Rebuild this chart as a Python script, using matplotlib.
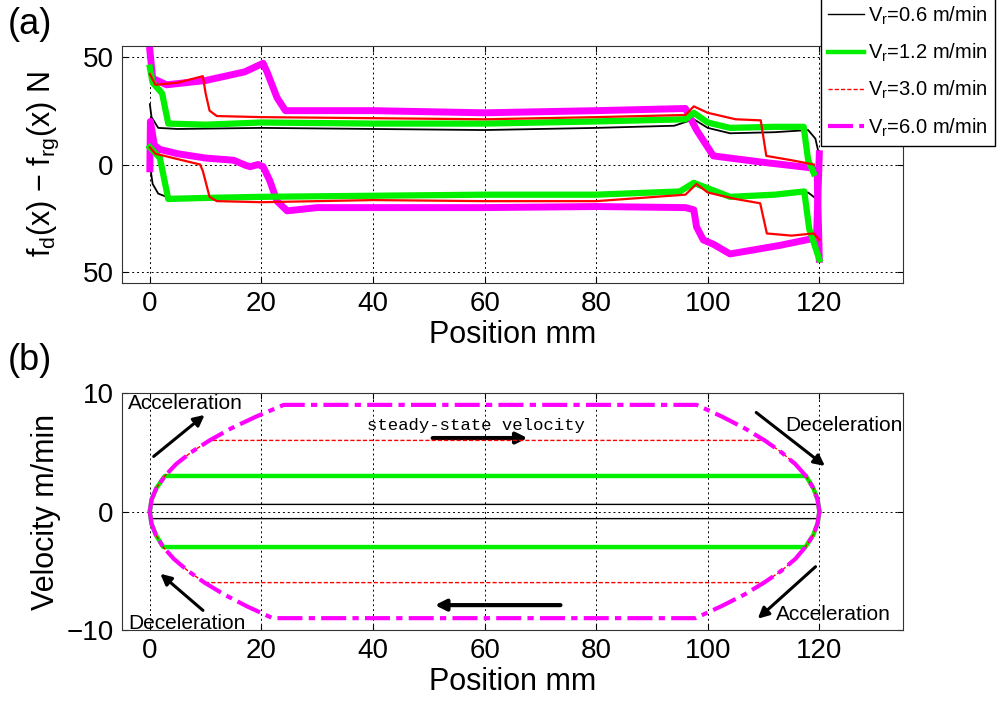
import numpy as np
import matplotlib.pyplot as plt

plt.rcParams['font.family'] = ['Liberation Sans', 'DejaVu Sans']
plt.rcParams['mathtext.fontset'] = 'custom'
plt.rcParams['mathtext.rm'] = 'Liberation Sans'
plt.rcParams['mathtext.it'] = 'Liberation Sans:italic'

speeds = [0.6, 1.2, 3.0, 6.0]
labels = ['V$_{\\mathrm{r}}$=%.1f m/min' % s for s in speeds]
colors = ['black', '#00f000', '#ff0000', '#ff00ff']

# (a) force difference, upper branch / lower branch of each run
blk_up_x = [0, 0.3, 1.5, 5, 20, 40, 60, 80, 94, 97.5, 100, 104, 112, 118, 119.3, 120]
blk_up_y = [28, 22, 17, 16.5, 17, 16.5, 16, 17, 18, 21, 17, 14.5, 15, 16, 12, 4]
blk_dn_x = [0, 0.5, 1.5, 3, 20, 40, 60, 80, 95, 97.5, 100, 104, 112, 118, 119.5, 120]
blk_dn_y = [0, -9, -13.5, -15, -15, -14.5, -14, -14, -13, -9.5, -12, -15, -14, -13, -16, -20]

grn_up_x = [0, 0.5, 2.2, 3.3, 10, 20, 40, 60, 80, 96, 97.5, 100, 104, 112, 117.2, 118, 119]
grn_up_y = [45, 38, 33, 19, 18.5, 19.5, 19, 19, 20, 21, 24, 19.5, 17, 17.5, 17.5, 2, -4]
grn_dn_x = [0, 1.8, 3.3, 10, 20, 40, 60, 80, 95, 97.5, 100, 104, 112, 117.3, 118.2, 120]
grn_dn_y = [8, 3, -16, -15.5, -15, -14.5, -14, -14, -12.5, -8.5, -11, -15, -14, -12.5, -30, -44]

red_up_x = [0, 1, 5, 9.5, 10, 10.7, 12, 20, 40, 60, 80, 96, 97.5, 100, 105, 109.5, 110.5, 115, 119]
red_up_y = [42, 37, 38, 41, 33, 25, 22.5, 22, 21.5, 21, 22, 23, 27, 24, 21, 20.5, 4, 2, 0]
red_dn_x = [0, 1, 9, 9.5, 10.7, 12, 20, 40, 60, 80, 96, 98, 100, 105, 109.4, 110.6, 115, 119, 120]
red_dn_y = [8, 5, 0, -3, -15, -17, -17.5, -16.5, -17, -17, -14, -9, -13, -16, -18, -32, -33, -32, -35]

mag_up_x = [0, 0.5, 3, 10, 17, 20.3, 21, 22.8, 24.3, 30, 40, 60, 80, 96, 98, 100, 101, 110, 118.4, 119.6, 120]
mag_up_y = [53, 40, 37, 39, 43, 47, 43, 31, 25, 25, 25, 24, 25, 26, 16, 8, 4, 1, -1.5, -3, -44]
mag_dn_x = [0, 0.1, 0.8, 1.8, 5, 10, 15, 17.3, 18, 19.4, 20.3, 21.5, 22.8, 24.6, 30, 40, 60, 80, 96,
            97.5, 98, 99.2, 101, 104, 113, 119.5, 120]
mag_dn_y = [-2, 20, 9, 7, 5, 3, 2, -0.5, -1, 0, -1, -7.5, -17, -21.5, -20, -20, -20, -19.5, -20,
            -21, -29, -35, -37, -41.5, -37.5, -34, 5]

force = [((blk_up_x, blk_up_y), (blk_dn_x, blk_dn_y)),
         ((grn_up_x, grn_up_y), (grn_dn_x, grn_dn_y)),
         ((red_up_x, red_up_y), (red_dn_x, red_dn_y)),
         ((mag_up_x, mag_up_y), (mag_dn_x, mag_dn_y))]

# (b) velocity profile
pos_up = [0, 0.3, 1.2, 2.7, 4.7, 7.4, 10.7, 14.5, 19.0, 24.0, 98.0, 102.6, 106.7, 110.2, 113.2, 115.7, 117.6, 118.9, 119.7, 120]
vel_up = [0, 1, 2, 3, 4, 5, 6, 7, 8, 9, 9, 8, 7, 6, 5, 4, 3, 2, 1, 0]
pos_dn = [0, 0.27, 1.1, 2.4, 4.3, 6.8, 9.8, 13.3, 17.4, 22.0, 97.8, 102.4, 106.6, 110.1, 113.2, 115.7, 117.5, 118.9, 119.7, 120]
vel_dn = [0, -1, -2, -3, -4, -5, -6, -7, -8, -9, -9, -8, -7, -6, -5, -4, -3, -2, -1, 0]
v_steady = [0.6, 3.0, 6.0, 9.0]

fig = plt.figure(figsize=(9.98, 7.07), dpi=100)
ax1 = fig.add_axes([0.1222, 0.5997, 0.7826, 0.3352])
ax2 = fig.add_axes([0.1222, 0.1089, 0.7826, 0.3352])

lw_a = [1.3, 4.5, 1.6, 5]
order = [0, 3, 1, 2]
for i in order:
    for bx, by in force[i]:
        ax1.plot(bx, by, color=colors[i], lw=lw_a[i], solid_joinstyle='round', zorder=3 + order.index(i))

styles = ['-', '-', (0, (3, 1.5)), (0, (6, 1.5, 1.5, 1.5))]
lw_b = [1, 3.2, 1, 3]
handles = []
for i in range(4):
    vu = np.minimum(vel_up, v_steady[i])
    vd = np.maximum(vel_dn, -v_steady[i])
    h, = ax2.plot(pos_up, vu, color=colors[i], lw=lw_b[i], ls=styles[i], zorder=3 + i)
    ax2.plot(pos_dn, vd, color=colors[i], lw=lw_b[i], ls=styles[i], zorder=3 + i)
    handles.append(h)

for ax in (ax1, ax2):
    ax.set_xlim(-5, 135)
    ax.set_xticks([0, 20, 40, 60, 80, 100, 120])
    ax.grid(True, color='black', linestyle=(0, (2, 3)), lw=0.7)
    ax.tick_params(direction='in', top=True, right=True, length=4, labelsize=20, pad=6)
    ax.set_xlabel('Position mm', fontsize=22, labelpad=2)
    for s in ax.spines.values():
        s.set_color('#333333')

ax1.set_ylim(-55, 55)
ax1.set_yticks([-50, 0, 50])
ax1.set_yticklabels(['50', '0', '50'])
ax1.set_ylabel('f$_{\\mathrm{d}}$(x) $-$ f$_{\\mathrm{rg}}$(x) N', fontsize=22)
ax1.yaxis.set_label_coords(-0.078, 0.5)

ax2.set_ylim(-10, 10)
ax2.set_yticks([-10, 0, 10])
ax2.set_ylabel('Velocity m/min', fontsize=22)
ax2.yaxis.set_label_coords(-0.078, 0.5)

fig.text(0.008, 0.99, '(a)', fontsize=26, va='top')
fig.text(0.008, 0.515, '(b)', fontsize=26, va='top')

arr = dict(arrowstyle='-|>', color='black', lw=2.2, mutation_scale=16)
ax2.annotate('', xy=(10.2, 8.3), xytext=(0.3, 4.5), arrowprops=arr)
ax2.annotate('', xy=(1.5, -5.1), xytext=(9.9, -8.5), arrowprops=arr)
ax2.annotate('', xy=(121.4, 3.7), xytext=(108.3, 8.5), arrowprops=arr)
ax2.annotate('', xy=(108.6, -9.2), xytext=(119.7, -4.5), arrowprops=arr)
ax2.annotate('', xy=(68.2, 6.2), xytext=(50.2, 6.2), arrowprops=dict(arr, lw=3))
ax2.annotate('', xy=(50.6, -7.9), xytext=(74.1, -7.9), arrowprops=dict(arr, lw=3))
ax2.text(-3.9, 9.1, 'Acceleration', fontsize=15, va='center', zorder=10)
ax2.text(-3.9, -9.45, 'Deceleration', fontsize=15, va='center', zorder=10)
ax2.text(113.9, 7.3, 'Deceleration', fontsize=15, va='center', zorder=10)
ax2.text(112.3, -8.7, 'Acceleration', fontsize=15, va='center', zorder=10)
ax2.text(58.5, 7.3, 'steady-state velocity', fontsize=12.5, family='Liberation Mono',
         ha='center', va='center', zorder=10)

leg = fig.legend(handles=handles, labels=labels, loc='upper left', bbox_to_anchor=(0.8226, 1.004),
                 fontsize=14.5, frameon=True, fancybox=False, edgecolor='black', framealpha=1,
                 handlelength=1.8, labelspacing=0.75, borderpad=0.35, handletextpad=0.2, borderaxespad=0)
leg.get_frame().set_linewidth(1)

plt.savefig('out.png', dpi=100)
